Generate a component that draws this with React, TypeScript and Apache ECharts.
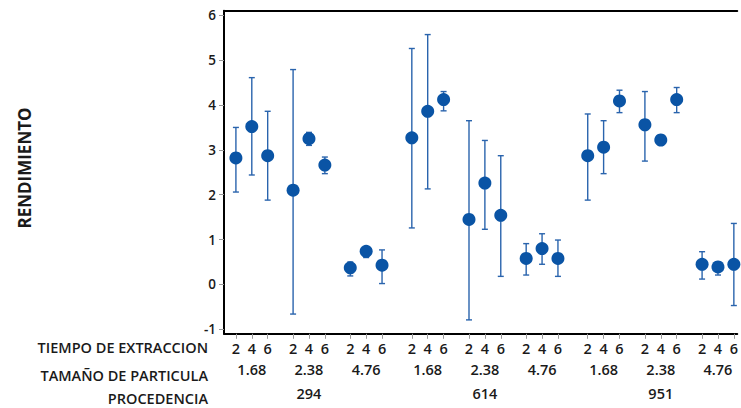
import React, { useEffect, useRef } from "react";
import * as echarts from "echarts";

const procedencias = ["294", "614", "951"];
const tamanos = ["1.68", "2.38", "4.76"];
const tiempos = ["2", "4", "6"];

// mean and interval bounds, order: procedencia > tamaño > tiempo
const means = [
  2.82, 3.52, 2.87, 2.10, 3.25, 2.66, 0.37, 0.74, 0.43,
  3.27, 3.86, 4.12, 1.45, 2.26, 1.54, 0.58, 0.80, 0.58,
  2.87, 3.06, 4.09, 3.56, 3.22, 4.12, 0.45, 0.39, 0.45,
];
const lowers = [
  2.06, 2.44, 1.88, -0.66, 3.10, 2.47, 0.19, 0.60, 0.02,
  1.26, 2.13, 3.87, -0.79, 1.23, 0.18, 0.21, 0.45, 0.18,
  1.88, 2.47, 3.83, 2.75, 3.16, 3.83, 0.12, 0.21, -0.47,
];
const uppers = [
  3.50, 4.61, 3.86, 4.79, 3.39, 2.84, 0.50, 0.84, 0.77,
  5.26, 5.57, 4.30, 3.65, 3.21, 2.87, 0.91, 1.13, 0.99,
  3.80, 3.65, 4.33, 4.30, 3.28, 4.39, 0.73, 0.50, 1.36,
];
const yTicks = [-1, 0, 1, 2, 3, 4, 5, 6];

const rowLabels = ["TIEMPO DE EXTRACCION", "TAMAÑO DE PARTICULA", "PROCEDENCIA"];
const yTitle = "RENDIMIENTO";

// layout rule for the category positions (gaps between groups)
const GAP_T = 3.6;
const GAP_P = 11.075;

export default function App() {
  const ref = useRef<HTMLDivElement>(null);
  useEffect(() => {
    if (!ref.current) return;
    const chart = echarts.init(ref.current, null, { renderer: "svg" });

    const pos: number[] = [];
    const tiempoLabel: Record<string, string> = {};
    const tamPos: number[] = [];
    const tamLabel: Record<string, string> = {};
    const procPos: number[] = [];
    const procLabel: Record<string, string> = {};
    const key = (v: number) => String(Math.round(v * 1000));
    procedencias.forEach((p, pi) => {
      tamanos.forEach((s, si) => {
        tiempos.forEach((t, ti) => {
          const x = ti + GAP_T * si + GAP_P * pi;
          pos.push(x);
          tiempoLabel[key(x)] = t;
        });
        const mid = 1 + GAP_T * si + GAP_P * pi;
        tamPos.push(mid);
        tamLabel[key(mid)] = s;
      });
      const pm = 1 + GAP_T * 1 + GAP_P * pi;
      procPos.push(pm);
      procLabel[key(pm)] = p;
    });

    const gridLeft = 224;
    const gridW = 741 - gridLeft;
    const xMin = -0.75;
    const xMax = xMin + gridW / 16;
    const font = "Open Sans";
    const labelStyle = {
      fontFamily: font,
      fontSize: 14.5,
      fontWeight: 600,
      color: "#1a1a1a",
    };

    const mkX = (
      offset: number,
      vals: number[],
      map: Record<string, string>,
      ticks: boolean,
      line: boolean
    ) => ({
      type: "value",
      gridIndex: 0,
      position: "bottom",
      offset,
      min: xMin,
      max: xMax,
      axisLine: { show: line, onZero: false, lineStyle: { color: "#000", width: 2 } },
      splitLine: { show: false },
      axisTick: ticks
        ? {
            show: true,
            customValues: vals,
            length: 5,
            lineStyle: { color: "#9a9a9a", width: 1 },
          }
        : { show: false },
      axisLabel: {
        show: true,
        customValues: vals,
        margin: ticks ? 7 : 0,
        formatter: (v: number) => map[key(v)] ?? "",
        ...labelStyle,
      },
    });

    const errData = pos.map((x, i) => [x, lowers[i], uppers[i]]);
    const ptData = pos.map((x, i) => [x, means[i]]);

    chart.setOption({
      animation: false,
      grid: {
        left: gridLeft,
        top: 10.8,
        width: gridW,
        height: 323,
        show: false,
      },
      xAxis: [
        mkX(0, pos, tiempoLabel, true, true),
        mkX(28.5, tamPos, tamLabel, false, false),
        mkX(52, procPos, procLabel, false, false),
        {
          type: "value",
          gridIndex: 0,
          position: "top",
          min: xMin,
          max: xMax,
          axisLine: { show: true, onZero: false, lineStyle: { color: "#000", width: 2 } },
          axisTick: { show: false },
          axisLabel: { show: false },
          splitLine: { show: false },
        },
      ],
      yAxis: {
        type: "value",
        min: -1.1,
        max: 6.1,
        axisLine: { show: true, onZero: false, lineStyle: { color: "#000", width: 2 } },
        splitLine: { show: false },
        axisTick: {
          show: true,
          customValues: yTicks,
          length: 5,
          lineStyle: { color: "#9a9a9a" },
        },
        axisLabel: {
          customValues: yTicks,
          margin: 8,
          fontFamily: font,
          fontSize: 13.5,
          fontWeight: 600,
          color: "#1a1a1a",
        },
      },
      graphic: [
        ...rowLabels.map((t, i) => ({
          type: "text",
          right: 741 - 208,
          top: [340, 367.5, 391][i],
          style: {
            text: t,
            fontFamily: font,
            fontSize: 14.5,
            fontWeight: 600,
            fill: "#1a1a1a",
            textAlign: "right",
          },
        })),
        {
          type: "text",
          x: 24,
          y: 168,
          rotation: Math.PI / 2,
          style: {
            text: yTitle,
            fontFamily: font,
            fontSize: 17,
            fontWeight: 700,
            fill: "#1a1a1a",
            textAlign: "center",
            textVerticalAlign: "middle",
          },
        },
      ],
      series: [
        {
          type: "custom",
          xAxisIndex: 0,
          data: errData,
          z: 2,
          renderItem: (params: any, api: any) => {
            const x = api.value(0);
            const lo = api.coord([x, api.value(1)]);
            const hi = api.coord([x, api.value(2)]);
            const w = 3;
            const st = { stroke: "#2a64ad", lineWidth: 1.4 };
            return {
              type: "group",
              children: [
                { type: "line", shape: { x1: hi[0], y1: hi[1], x2: lo[0], y2: lo[1] }, style: st },
                { type: "line", shape: { x1: hi[0] - w, y1: hi[1], x2: hi[0] + w, y2: hi[1] }, style: st },
                { type: "line", shape: { x1: lo[0] - w, y1: lo[1], x2: lo[0] + w, y2: lo[1] }, style: st },
              ],
            };
          },
        },
        {
          type: "scatter",
          xAxisIndex: 0,
          data: ptData,
          symbol: "circle",
          symbolSize: 13,
          z: 3,
          itemStyle: { color: "#0a54a5", opacity: 1 },
        },
      ],
    });
    return () => chart.dispose();
  }, []);
  return (
    <div
      ref={ref}
      style={{ position: "fixed", left: 0, top: 0, width: 741, height: 408, background: "#fff" }}
    />
  );
}
